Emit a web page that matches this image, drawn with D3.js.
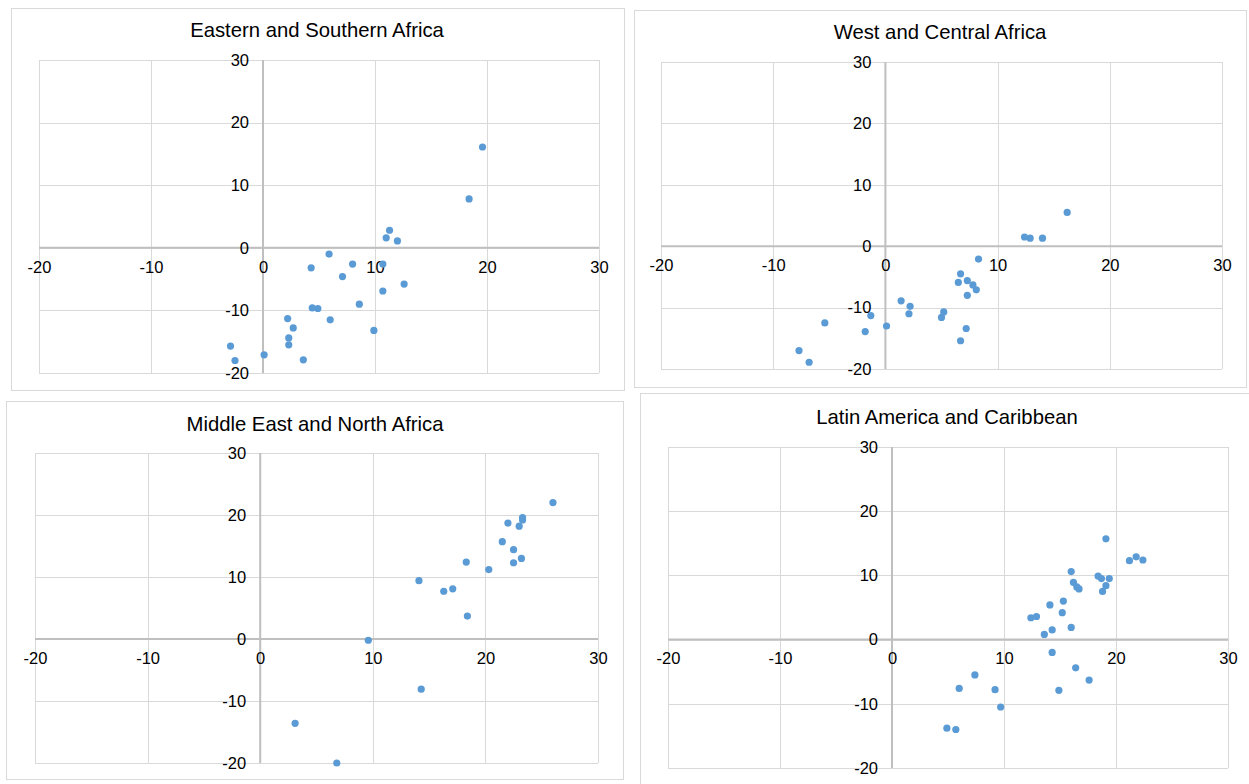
<!DOCTYPE html>
<html>
  <meta charset="utf-8" />
  <style>
    body { margin: 0; background: #fff; }
    text { font-family: "Liberation Sans", Arial, sans-serif; fill: #000; }
  </style>
  <svg width="1249" height="784"></svg>
  <script src="https://d3js.org/d3.v7.min.js"></script>
  <script>
    // region names (panel titles)
    const regions = [
      "Eastern and Southern Africa",
      "West and Central Africa",
      "Middle East and North Africa",
      "Latin America and Caribbean",
    ];

    const axisTicks = [-20, -10, 0, 10, 20, 30];

    // points per region, [x, y]
    const easternSouthern = [
      [19.6, 16.1], [18.4, 7.8], [11.3, 2.8], [11.0, 1.6], [12.0, 1.1],
      [5.9, -1.0], [8.0, -2.6], [10.7, -2.6], [4.3, -3.2], [7.1, -4.6],
      [12.6, -5.8], [10.7, -6.9], [8.6, -9.0], [4.4, -9.6], [4.9, -9.7],
      [2.2, -11.3], [6.0, -11.5], [2.7, -12.8], [9.9, -13.2], [2.3, -14.4],
      [2.3, -15.5], [-2.9, -15.7], [0.1, -17.1], [-2.5, -18.0], [3.6, -17.9],
    ];
    const westCentral = [
      [16.2, 5.5], [12.4, 1.5], [12.9, 1.3], [14.0, 1.3], [8.3, -2.1],
      [6.7, -4.5], [6.5, -5.9], [7.3, -5.6], [7.8, -6.3], [8.1, -7.1],
      [7.3, -8.0], [1.4, -8.9], [2.2, -9.8], [2.1, -11.0], [-1.3, -11.3],
      [5.2, -10.7], [5.0, -11.6], [-5.4, -12.5], [0.1, -13.0], [-1.8, -13.9],
      [7.2, -13.4], [6.7, -15.4], [-7.7, -17.0], [-6.8, -18.9],
    ];
    const middleEastNorth = [
      [26.0, 22.0], [23.3, 19.6], [23.3, 19.2], [22.0, 18.7], [23.0, 18.2],
      [21.5, 15.7], [22.5, 14.4], [23.2, 13.0], [22.5, 12.3], [18.3, 12.4],
      [20.3, 11.2], [14.1, 9.4], [16.3, 7.7], [17.1, 8.1], [18.4, 3.7],
      [9.6, -0.2], [14.3, -8.1], [3.1, -13.6], [6.8, -20.0],
    ];
    const latinCaribbean = [
      [19.1, 15.7], [21.8, 12.9], [21.2, 12.3], [22.4, 12.4], [16.0, 10.6],
      [18.4, 9.9], [18.7, 9.5], [19.4, 9.5], [16.2, 8.9], [16.5, 8.2],
      [16.7, 7.9], [19.1, 8.4], [18.8, 7.5], [15.3, 6.0], [14.1, 5.4],
      [15.2, 4.2], [12.4, 3.4], [12.9, 3.6], [16.0, 1.9], [14.3, 1.5],
      [13.6, 0.8], [14.3, -2.0], [16.4, -4.4], [7.4, -5.5], [17.6, -6.3],
      [6.0, -7.6], [9.2, -7.8], [14.9, -7.9], [9.7, -10.5], [4.9, -13.8],
      [5.7, -14.0],
    ];
    const seriesData = [easternSouthern, westCentral, middleEastNorth, latinCaribbean];

    // panel layout: outer box, plot area, title position
    const panels = [
      { box: [11, 8, 613, 382], plot: [39, 60, 599, 373], title: [317, 30] },
      { box: [634, 10, 612, 377], plot: [661, 62, 1222, 369], title: [940, 32] },
      { box: [6, 401, 617, 378], plot: [35, 453, 598, 763], title: [315, 424] },
      { box: [640, 393, 620, 400], plot: [668, 447, 1228, 768], title: [947, 417] },
    ];

    const svg = d3.select("svg");

    panels.forEach((p, i) => {
      const g = svg.append("g");

      g.append("rect")
        .attr("x", p.box[0] + 0.5)
        .attr("y", p.box[1] + 0.5)
        .attr("width", p.box[2])
        .attr("height", p.box[3])
        .attr("fill", "#fff")
        .attr("stroke", "#d9d9d9");

      g.append("text")
        .attr("x", p.title[0])
        .attr("y", p.title[1])
        .attr("text-anchor", "middle")
        .attr("dominant-baseline", "central")
        .style("font-size", "20.3px")
        .text(regions[i]);

      const x = d3.scaleLinear().domain([-20, 30]).range([p.plot[0], p.plot[2]]);
      const y = d3.scaleLinear().domain([-20, 30]).range([p.plot[3], p.plot[1]]);

      // gridlines
      g.append("g")
        .selectAll("line")
        .data(axisTicks)
        .join("line")
        .attr("x1", (d) => Math.round(x(d)) + 0.5)
        .attr("x2", (d) => Math.round(x(d)) + 0.5)
        .attr("y1", y(30))
        .attr("y2", y(-20))
        .attr("stroke", "#d9d9d9");
      g.append("g")
        .selectAll("line")
        .data(axisTicks)
        .join("line")
        .attr("y1", (d) => Math.round(y(d)) + 0.5)
        .attr("y2", (d) => Math.round(y(d)) + 0.5)
        .attr("x1", x(-20))
        .attr("x2", x(30))
        .attr("stroke", "#d9d9d9");

      // zero axes
      g.append("line")
        .attr("x1", x(-20))
        .attr("x2", x(30))
        .attr("y1", y(0))
        .attr("y2", y(0))
        .attr("stroke", "#bfbfbf")
        .attr("stroke-width", 2);
      g.append("line")
        .attr("x1", x(0))
        .attr("x2", x(0))
        .attr("y1", y(30))
        .attr("y2", y(-20))
        .attr("stroke", "#bfbfbf")
        .attr("stroke-width", 2);

      // tick labels (plain hyphen minus, as in the original)
      const fmt = (d) => String(d);
      const xAxis = g
        .append("g")
        .attr("transform", `translate(0,${y(0)})`)
        .call(d3.axisBottom(x).tickValues(axisTicks).tickFormat(fmt).tickSize(0).tickPadding(13));
      const yAxis = g
        .append("g")
        .attr("transform", `translate(${x(0) - 8},0)`)
        .call(d3.axisLeft(y).tickValues(axisTicks).tickFormat(fmt).tickSize(0).tickPadding(6));
      [xAxis, yAxis].forEach((a) => {
        a.select(".domain").remove();
        a.selectAll("text")
          .style("font-size", "16.5px")
          .style("font-family", '"Liberation Sans", Arial, sans-serif')
          .attr("fill", "#000");
      });

      // points
      g.append("g")
        .selectAll("circle")
        .data(seriesData[i])
        .join("circle")
        .attr("cx", (d) => x(d[0]))
        .attr("cy", (d) => y(d[1]))
        .attr("r", 3.6)
        .attr("fill", "#5b9bd5");
    });
  </script>
</html>
